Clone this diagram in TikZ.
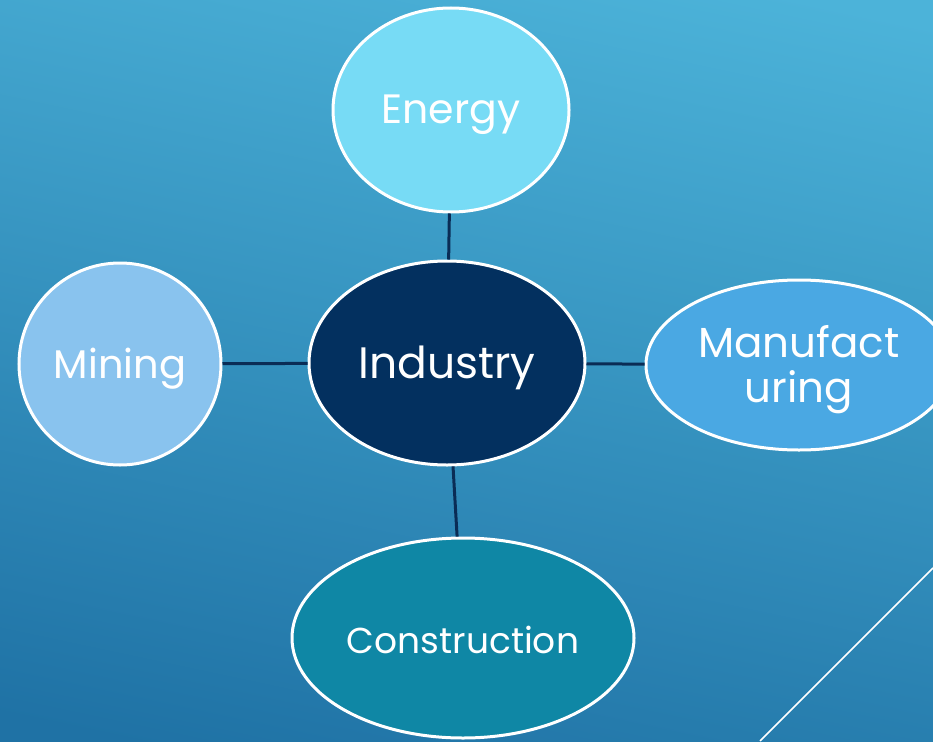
\documentclass[tikz,border=0pt]{standalone}
\usepackage{fontspec}
\setmainfont{Poppins}
\usetikzlibrary{shapes.geometric}
\definecolor{bgtop}{HTML}{4CB3D9}
\definecolor{bgbot}{HTML}{1F72A5}
\definecolor{cEnergy}{HTML}{77DBF5}
\definecolor{cMining}{HTML}{89C3EE}
\definecolor{cManu}{HTML}{4AA8E3}
\definecolor{cCons}{HTML}{0F87A5}
\definecolor{cInd}{HTML}{03305F}
\definecolor{cLink}{HTML}{0A2C55}
\tikzset{
  bubble/.style={ellipse, draw=white, line width=3pt, inner sep=0pt, text=white, align=center, text depth=0pt},
  link/.style={draw=cLink, line width=3pt},
}
\begin{document}
\begin{tikzpicture}[x=1pt,y=-1pt]
\clip (0,0) rectangle (933,741);
\shade[top color=bgtop, bottom color=bgbot, shading angle=-12] (-50,-50) rectangle (983,791);
\node[bubble, fill=cEnergy, minimum width=236pt, minimum height=204pt, text height=28pt, font=\fontsize{41}{44}\selectfont] (energy) at (451,110) {Energy};
\node[bubble, fill=cInd, minimum width=276pt, minimum height=204pt, text height=31pt, font=\fontsize{44}{48}\selectfont] (industry) at (447,363) {Industry};
\node[bubble, fill=cMining, minimum width=202pt, minimum height=202pt, text height=28pt, font=\fontsize{40}{44}\selectfont] (mining) at (120,364) {Mining};
\node[bubble, fill=cManu, minimum width=306pt, minimum height=170pt, text height=74pt, font=\fontsize{42}{45}\selectfont] (manu) at (799,365) {Manufact\\uring};
\node[bubble, fill=cCons, minimum width=342pt, minimum height=200pt, text height=30pt, font=\fontsize{36}{40}\selectfont] (cons) at (463,638) {Construction};
\draw[link] (energy) -- (industry);
\draw[link] (mining) -- (industry);
\draw[link] (industry) -- (manu);
\draw[link] (industry) -- (cons);
\coordinate (d1) at (760,741);
\coordinate (d2) at (933,568);
\draw[white, line width=1.5pt] (d1) -- (d2);
\end{tikzpicture}
\end{document}
